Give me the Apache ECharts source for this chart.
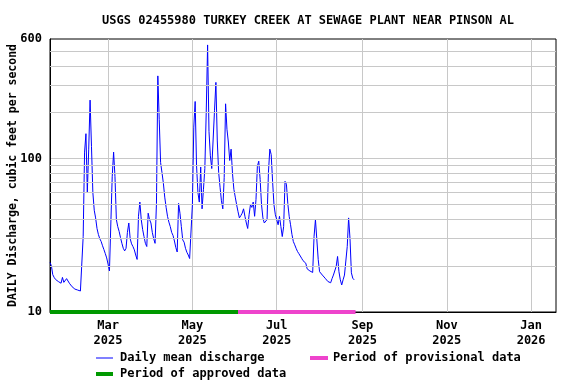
<!DOCTYPE html>
<html><head><meta charset="utf-8">
<script src="https://cdn.jsdelivr.net/npm/echarts@6/dist/echarts.min.js"></script>
<style>html,body{margin:0;padding:0;background:#fff}#c{width:576px;height:384px}</style>
</head><body><div id="c"></div>
<script>
const titleText = 'USGS 02455980 TURKEY CREEK AT SEWAGE PLANT NEAR PINSON AL';
const yAxisTitle = 'DAILY Discharge, cubic feet per second';
const axisStart = '2025-01-18';
const axisEnd = '2026-01-19';
// daily mean discharge (ft3/s) starting 2025-01-18
const discharge = [
21, 20, 17.5, 16.8, 16.3, 16, 15.8, 15.6, 15.4, 16.8,
15.6, 15.2, 16.5, 16.5, 15.4, 15, 14.6, 14.3, 14.1, 14,
13.9, 13.8, 13.7, 13.6, 31, 110, 145, 60, 115, 240,
120, 60, 46, 41, 35, 32, 30, 28.8, 27, 25.5,
24, 22.5, 20.5, 18.5, 18.2, 76, 110, 76, 40, 36,
33.5, 30.5, 28, 26, 25, 26, 33, 38, 30, 27.8,
26.7, 25.4, 23.5, 22, 42, 52, 40, 34.5, 31, 28,
26.7, 44, 40, 38, 33, 30, 28, 51, 345, 180,
94, 81, 69, 56, 48, 42, 38.5, 36, 33, 31.5,
29, 26.3, 24.6, 51, 44, 36, 29.5, 28.5, 26, 24.5,
23.5, 22.3, 22.5, 50, 160, 235, 90, 60, 52, 88,
47, 63, 86, 200, 549, 150, 104, 86, 88, 206,
313, 130, 81, 65, 53, 47, 75, 227, 155, 128,
97, 115, 80, 63, 56, 50, 45, 41, 42.4, 44,
47, 42, 38, 35, 43, 50, 48, 52, 42, 54,
89, 96, 73, 50, 41, 38, 39, 40, 81, 115,
106, 71, 50, 43, 40, 37, 42, 36, 31, 36,
71, 68, 51, 42, 37, 32, 28.8, 27.4, 26, 24.8,
24, 23.3, 22.4, 21.6, 21.2, 20.8, 19.1, 18.8, 18.5, 18.3,
18.1, 31, 40, 41, 22, 18.3, 17.9, 17.4, 17, 16.6,
16.2, 15.8, 15.9, 15.5, 16.5, 17.4, 17, 19.8, 23, 18.3,
16.2, 15, 16.2, 17.4, 17, 26.7, 41, 30, 18, 16.6,
16.2
];
const approvedPeriod = ['2025-01-18', '2025-06-03'];
const provisionalPeriod = ['2025-06-03', '2025-08-27'];
const periodLevel = 10;
const yMin = 10, yMax = 600;
const yMinorGrid = [20, 30, 40, 50, 60, 70, 80, 90, 200, 300, 400, 500];
const xTickMonths = ['01', '03', '05', '07', '09', '11'];
const monthNames = {'01':'Jan','03':'Mar','05':'May','07':'Jul','09':'Sep','11':'Nov'};
const legendNames = ['Daily mean discharge', 'Period of provisional data', 'Period of approved data'];

// build daily category list
const categories = [];
{
  const d = new Date(axisStart + 'T00:00:00Z');
  const end = new Date(axisEnd + 'T00:00:00Z');
  while (d <= end) {
    categories.push(d.toISOString().slice(0, 10));
    d.setUTCDate(d.getUTCDate() + 1);
  }
}
const isTick = (idx, val) => val.slice(8) === '01' && xTickMonths.includes(val.slice(5, 7));
const FONT = 'DejaVu Sans Mono';
const txt = {fontFamily: FONT, fontWeight: 'bold', fontSize: 12, color: '#000'};

const chart = echarts.init(document.getElementById('c'), null, {renderer: 'canvas'});
chart.setOption({
  animation: false,
  backgroundColor: '#fff',
  title: {
    text: titleText, left: 303, top: 10, textAlign: 'center',
    textStyle: Object.assign({}, txt, {fontSize: 12})
  },
  grid: {left: 50, top: 39, width: 506, height: 273, show: true, borderColor: '#000', borderWidth: 1,
         backgroundColor: 'transparent', containLabel: false, outerBoundsMode: 'none'},
  legend: [
    {data: [{name: legendNames[0], icon: 'rect'}], left: 91, top: 347, itemWidth: 17, itemHeight: 1, textStyle: Object.assign({}, txt, {padding: [0, 0, 0, 2]}), selectedMode: false},
    {data: [{name: legendNames[1], icon: 'rect'}], left: 305, top: 347, itemWidth: 18, itemHeight: 4, textStyle: Object.assign({}, txt, {padding: [0, 0, 0, 0]}), selectedMode: false},
    {data: [{name: legendNames[2], icon: 'rect'}], left: 91, top: 363, itemWidth: 17, itemHeight: 4, textStyle: Object.assign({}, txt, {padding: [0, 0, 0, 2]}), selectedMode: false}
  ],
  xAxis: {
    type: 'category', data: categories, boundaryGap: false,
    axisLine: {show: true, lineStyle: {color: '#000', width: 1}},
    axisTick: {show: false},
    axisLabel: {
      interval: isTick, margin: 6, lineHeight: 15,
      fontFamily: FONT, fontWeight: 'bold', fontSize: 12, color: '#000',
      formatter: v => monthNames[v.slice(5, 7)] + '\n' + v.slice(0, 4)
    },
    splitLine: {show: true, interval: isTick, lineStyle: {color: '#c8c8c8', width: 1}}
  },
  yAxis: {
    type: 'log', logBase: 10, min: yMin, max: yMax,
    name: yAxisTitle, nameLocation: 'middle', nameGap: 31, nameRotate: 90, nameMoveOverlap: false,
    nameTextStyle: {fontFamily: FONT, fontWeight: 'bold', fontSize: 11.5, color: '#000'},
    axisLine: {show: true, lineStyle: {color: '#000', width: 1}},
    axisTick: {show: false},
    axisLabel: {fontFamily: FONT, fontWeight: 'bold', fontSize: 12, color: '#000', margin: 8, showMaxLabel: true, showMinLabel: true},
    splitLine: {show: true, showMinLine: false, showMaxLine: false, lineStyle: {color: '#c8c8c8', width: 1}}
  },
  series: [
    {
      name: 'minor-grid', type: 'line', data: [], z: 1, silent: true,
      markLine: {
        silent: true, symbol: 'none', label: {show: false}, animation: false,
        lineStyle: {color: '#c8c8c8', type: 'solid', width: 1},
        emphasis: {disabled: true},
        data: yMinorGrid.map(v => ({yAxis: v}))
      }
    },
    {
      name: legendNames[0], type: 'line', data: discharge, z: 3,
      showSymbol: false, symbol: 'none',
      lineStyle: {color: '#0000ff', width: 1}, itemStyle: {color: '#0000ff'}
    },
    {
      name: legendNames[2], type: 'line', z: 4, clip: false,
      data: approvedPeriod.map(d => [d, periodLevel]),
      showSymbol: false, symbol: 'none',
      lineStyle: {color: '#009900', width: 4}, itemStyle: {color: '#009900'}
    },
    {
      name: legendNames[1], type: 'line', z: 4, clip: false,
      data: provisionalPeriod.map(d => [d, periodLevel]),
      showSymbol: false, symbol: 'none',
      lineStyle: {color: '#ee44cc', width: 4}, itemStyle: {color: '#ee44cc'}
    }
  ]
});
</script></body></html>
